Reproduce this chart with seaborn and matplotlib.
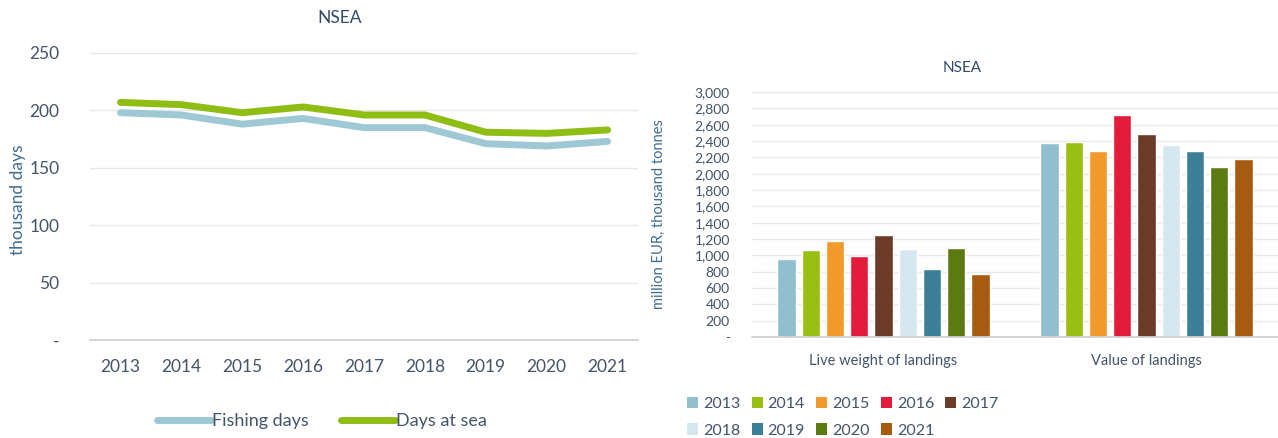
import matplotlib
matplotlib.use("Agg")
import matplotlib.pyplot as plt
from matplotlib.patches import Patch
from matplotlib.lines import Line2D
import seaborn as sns
import pandas as pd

# data
years = [2013, 2014, 2015, 2016, 2017, 2018, 2019, 2020, 2021]
fishing_days = [198, 196, 188, 193, 185, 185, 171, 169, 173]
days_at_sea = [207, 205, 198, 203, 196, 196, 181, 180, 183]

categories = ["Live weight of landings", "Value of landings"]
live_weight = [960, 1065, 1180, 990, 1245, 1075, 835, 1095, 775]
value_landings = [2375, 2390, 2275, 2720, 2490, 2355, 2275, 2085, 2185]

year_colors = ["#92bfd0", "#99bf12", "#f39a2c", "#e21c3a", "#6a3b27",
               "#d6e7ef", "#3d7f96", "#5b7b12", "#a65b10"]
line_colors = {"Fishing days": "#9dc8d4", "Days at sea": "#8fbd14"}

text_col = "#44546a"
label_col = "#3f6d92"

sns.set_theme(style="white")
plt.rcParams["font.family"] = ["Lato", "DejaVu Sans"]

fig = plt.figure(figsize=(12.78, 4.38), dpi=100)
W, H = 1278, 438

# ---- left: fishing effort lines
lines_df = pd.DataFrame({
    "year": years * 2,
    "value": fishing_days + days_at_sea,
    "series": ["Fishing days"] * len(years) + ["Days at sea"] * len(years),
})

ax1 = fig.add_axes([90 / W, 1 - 340 / H, 548 / W, 287 / H])
sns.lineplot(data=lines_df, x="year", y="value", hue="series", palette=line_colors,
             linewidth=5, ax=ax1, legend=False, solid_capstyle="round",
             solid_joinstyle="round")
ax1.set_xlim(2012.5, 2021.5)
ax1.set_ylim(0, 250)
ax1.set_yticks([0, 50, 100, 150, 200, 250])
ax1.set_yticklabels(["-", "50", "100", "150", "200", "250"])
ax1.set_xticks(years)
ax1.set_xticks([y + 0.5 for y in years[:-1]] + [2012.5], minor=True)
ax1.tick_params(axis="x", which="major", length=0, pad=14, labelsize=12.5, colors=text_col)
ax1.tick_params(axis="x", which="minor", length=6, width=1, color="#d0d0d0", direction="out")
ax1.tick_params(axis="y", length=0, pad=22, labelsize=12.5, colors=text_col)
ax1.grid(axis="y", color="#e8e8e8", linewidth=1)
for s in ["top", "right", "left"]:
    ax1.spines[s].set_visible(False)
ax1.spines["bottom"].set_color("#d0d0d0")
ax1.set_xlabel("")
ax1.set_ylabel("thousand days", fontsize=12.5, color=label_col)
ax1.yaxis.set_label_coords((26 - 90) / 548, 0.49)
fig.text(340 / W, 1 - 18 / H, "NSEA", ha="center", va="center", fontsize=12.5, color="#2f4b6e")

line_handles = [Line2D([], [], color=line_colors[k], linewidth=5) for k in line_colors]
fig.legend(line_handles, list(line_colors), loc="center", bbox_to_anchor=(322 / W, 1 - 421 / H),
           ncol=2, frameon=False, handlelength=3.0, handletextpad=0.05, columnspacing=1.8,
           labelcolor=text_col, prop={"size": 13})

# ---- right: landings bars
bars_df = pd.DataFrame({
    "category": [categories[0]] * len(years) + [categories[1]] * len(years),
    "year": [str(y) for y in years] * 2,
    "value": live_weight + value_landings,
})

ax2 = fig.add_axes([752 / W, 1 - 337 / H, 526 / W, 245 / H])
sns.barplot(data=bars_df, x="category", y="value", hue="year", palette=year_colors,
            width=0.83, gap=0.25, ax=ax2, legend=False, saturation=1)
ax2.set_ylim(0, 3000)
yt = list(range(0, 3001, 200))
ax2.set_yticks(yt)
ax2.set_yticklabels(["-"] + [f"{v:,}" for v in yt[1:]])
ax2.tick_params(axis="y", length=0, pad=16, labelsize=10, colors=text_col)
ax2.tick_params(axis="x", length=0, pad=12, labelsize=10.5, colors=text_col)
ax2.grid(axis="y", color="#e8e8e8", linewidth=1)
ax2.set_axisbelow(True)
for s in ["top", "right", "left"]:
    ax2.spines[s].set_visible(False)
ax2.spines["bottom"].set_color("#d0d0d0")
ax2.set_xlabel("")
ax2.set_ylabel("million EUR, thousand tonnes", fontsize=10.5, color=label_col)
ax2.yaxis.set_label_coords((666 - 752) / 526, 0.5)
fig.text(962 / W, 1 - 68 / H, "NSEA", ha="center", va="center", fontsize=11, color="#2f4b6e")

# legend in row-major order: 2013-2017 on top row, 2018-2021 below
order = [0, 5, 1, 6, 2, 7, 3, 8, 4]
patches = [Patch(facecolor=year_colors[i], edgecolor="none") for i in order]
labels = [str(years[i]) for i in order]
fig.legend(patches, labels, loc="upper left", bbox_to_anchor=(684 / W, 1 - 394 / H),
           ncol=5, frameon=False, handlelength=0.7, handleheight=0.7, handletextpad=0.3,
           columnspacing=0.7, labelspacing=0.75, labelcolor=text_col, prop={"size": 11.5},
           borderaxespad=0, borderpad=0.2)

fig.savefig("out.png", dpi=100, facecolor="white")
